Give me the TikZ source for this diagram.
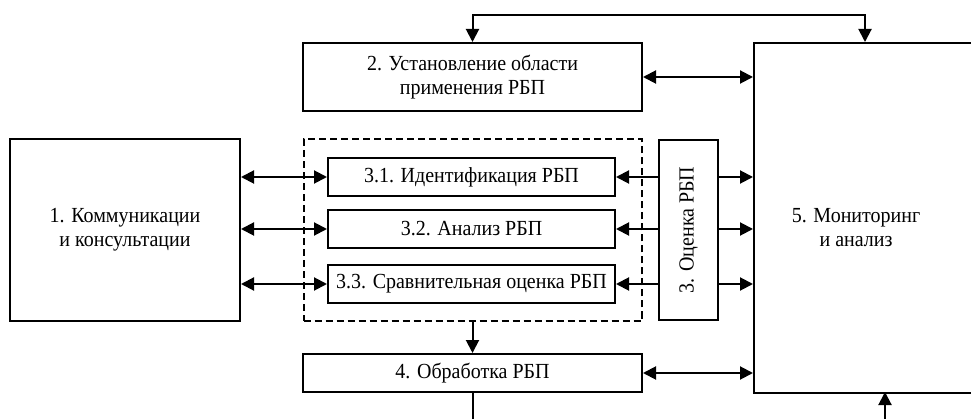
\documentclass[tikz,border=0pt]{standalone}
\usepackage{fontspec}
\setmainfont{Liberation Serif}[FakeStretch=0.93]
\usetikzlibrary{arrows.meta}
\begin{document}
\begin{tikzpicture}[x=1pt,y=-1pt,
  box/.style={draw, line width=2pt, inner sep=0pt, align=center,
    font=\fontsize{21.5}{24}\selectfont},
  txt/.style={inner sep=0pt, align=center, font=\fontsize{21.5}{24}\selectfont},
  dashbox/.style={draw, line width=2pt, dash pattern=on 7pt off 4pt, inner sep=0pt},
  conn/.style={line width=2pt},
  arr/.style={conn, -{Triangle[length=13pt,width=13pt]}},
  dbl/.style={conn, {Triangle[length=13pt,width=13pt]}-{Triangle[length=13pt,width=13pt]}}]
\useasboundingbox (0,0) rectangle (971,419);
\clip (0,0) rectangle (971,419);
% nodes
\node[box, minimum width=230pt, minimum height=182pt] (k) at (125,230) {1. Коммуникации\\и консультации};
\node[box, minimum width=339pt, minimum height=68pt] (s) at (472.5,77) {2. Установление области\\применения РБП};
\node[dashbox, minimum width=338pt, minimum height=182pt] (d) at (472.5,230.5) {};
\node[box, minimum width=287pt, minimum height=38pt] (i1) at (471.5,177) {3.1. Идентификация РБП};
\node[box, minimum width=287pt, minimum height=38pt] (i2) at (471.5,229) {3.2. Анализ РБП};
\node[box, minimum width=287pt, minimum height=38pt] (i3) at (471.5,284) {3.3. Сравнительная оценка РБП};
\node[box, minimum width=59pt, minimum height=180pt] (oc) at (688.5,230) {\rotatebox{90}{3. Оценка РБП}};
\node[box, minimum width=339pt, minimum height=38pt] (o) at (472.5,373) {4. Обработка РБП};
\node[box, minimum width=250pt, minimum height=350pt, anchor=north west] (m) at (753,42) {};
\node[txt] (mt) at (856,228) {5. Мониторинг\\и анализ};
% helper coordinates
\coordinate (ty) at (0,15);
\coordinate (by) at (0,430);
\coordinate (mtop) at (865,42);
\coordinate (mbot) at (885,392);
% connectors
\foreach \n in {i1,i2,i3}{
  \draw[dbl] (k.east |- \n.west) -- (\n.west);
  \draw[arr] (oc.west |- \n.east) -- (\n.east);
  \draw[arr] (oc.east |- \n.east) -- (m.west |- \n.east);
}
\draw[dbl] (s.east) -- (m.west |- s.east);
\draw[dbl] (o.east) -- (m.west |- o.east);
\draw[arr] (d.south) -- (o.north);
\draw[dbl] (s.north) -- (s.north |- ty) -| (mtop);
\draw[conn] (o.south) -- (o.south |- by);
\draw[arr] (mbot |- by) -- (mbot);
\end{tikzpicture}
\end{document}
